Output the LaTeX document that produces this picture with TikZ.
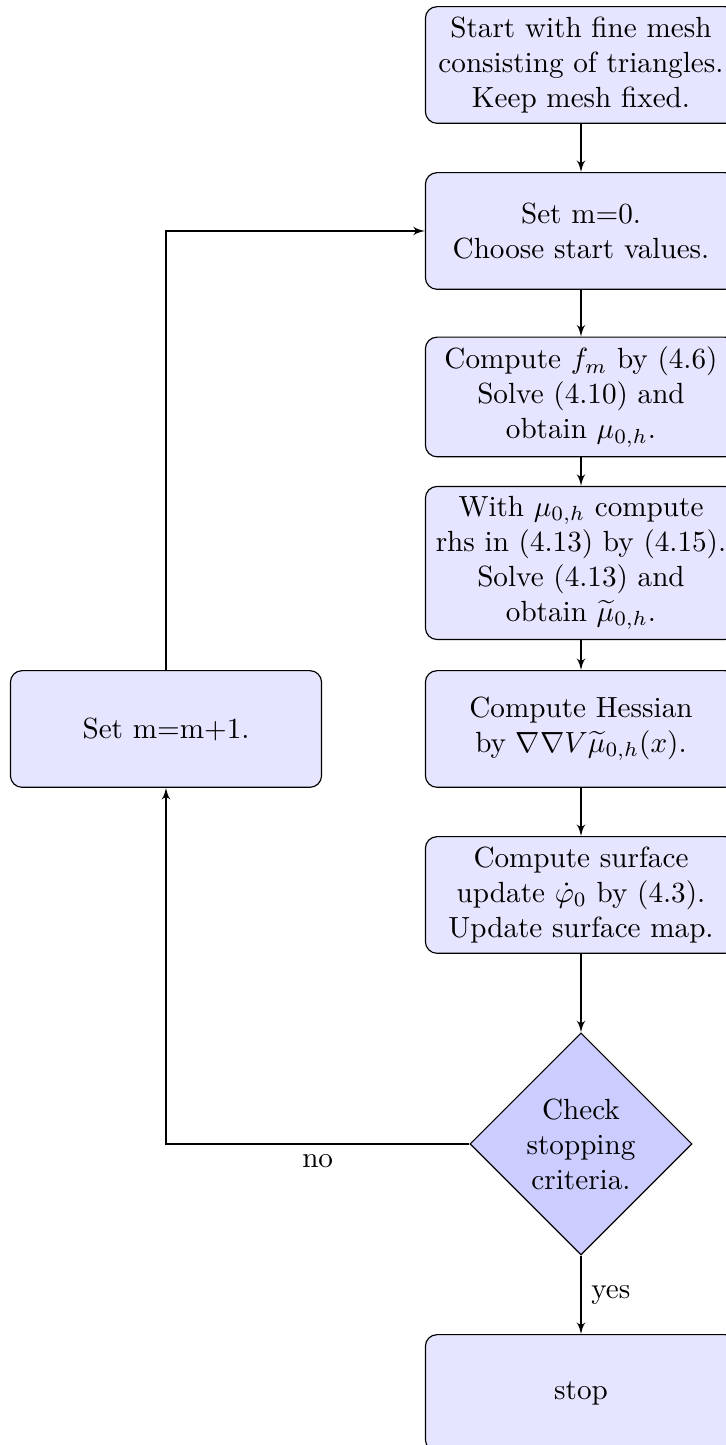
\documentclass[tikz,border=0pt]{standalone}
\usetikzlibrary{shapes.geometric,arrows,positioning}
\begin{document}
\begin{tikzpicture}[node distance=2cm,
    block/.style={rectangle, draw, fill=blue!10, text width=10em, text centered, rounded corners, minimum height=4em},
    decision/.style={diamond, draw, fill=blue!20, text width=4.5em, text badly centered, inner sep=0pt},
    line/.style={draw, -latex'}]
    \useasboundingbox (0,0) rectangle (8.747,-17.41);
    % main column
    \node [block] (mesh) at (7,-0.783) {Start with fine mesh consisting of triangles. Keep mesh fixed.};
    \node [block, below of=mesh] (init) {Set m=0.\\ Choose start values.};
    \node [block, below of=init] (solve) {Compute $f_m$ by (4.6)\\ Solve (4.10) and\\ obtain $\mu_{0,h}$.};
    \node [block, below of=solve] (rhs) {With $\mu_{0,h}$ compute\\ rhs in (4.13) by (4.15).\\ Solve (4.13) and\\ obtain $\widetilde{\mu}_{0,h}$.};
    \node [block, below of=rhs] (hessian) {Compute Hessian\\ by $\nabla\nabla V\widetilde{\mu}_{0,h}(x)$.};
    \node [block, below of=hessian] (surface) {Compute surface\\ update $\dot{\varphi}_0$ by (4.3).\\ Update surface map.};
    \node [decision, below of=surface, node distance=3cm] (check) {Check stopping criteria.};
    \node [block, below of=check, node distance=3cm] (stop) {stop};
    % loop back
    \node [block, left of=hessian, node distance=5cm] (update) {Set m=m+1.};
    % edges
    \path [line] (mesh) -- (init);
    \path [line] (init) -- (solve);
    \path [line] (solve) -- (rhs);
    \path [line] (rhs) -- (hessian);
    \path [line] (hessian) -- (surface);
    \path [line] (surface) -- (check);
    \path [line] (check) -| node [near start, below] {no} (update);
    \path [line] (update) |- (init);
    \path [line] (check) -- node [right] {yes} (stop);
\end{tikzpicture}
\end{document}
